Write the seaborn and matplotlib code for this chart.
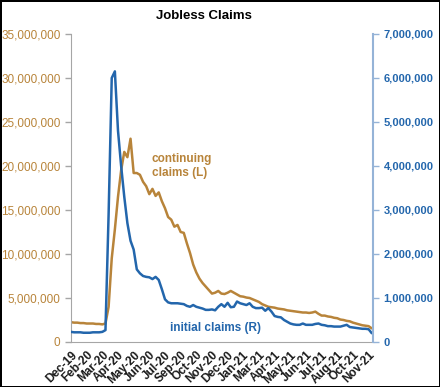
import numpy as np
import pandas as pd
import matplotlib
matplotlib.use('Agg')
import matplotlib.pyplot as plt
from matplotlib.ticker import FuncFormatter
import seaborn as sns

# weekly data, millions
continuing = [2.25, 2.2, 2.2, 2.15, 2.15, 2.1, 2.1, 2.1, 2.05, 2.05,
              2.0, 2.1, 4.0, 9.5, 12.8, 16.5, 19.5, 21.6, 21.0, 23.1,
              19.2, 19.2, 19.0, 18.2, 17.7, 16.8, 17.4, 16.6, 17.0, 16.0,
              15.2, 14.2, 13.9, 13.1, 13.3, 12.5, 12.4, 11.2, 10.1, 8.8,
              7.9, 7.2, 6.7, 6.3, 5.9, 5.5, 5.6, 5.8, 5.5, 5.45,
              5.6, 5.8, 5.6, 5.4, 5.2, 5.15, 5.05, 5.0, 4.85, 4.7,
              4.55, 4.3, 4.15, 4.0, 3.95, 3.9, 3.8, 3.75, 3.7, 3.6,
              3.55, 3.5, 3.45, 3.4, 3.35, 3.35, 3.3, 3.35, 3.45, 3.2,
              3.0, 3.0, 2.9, 2.85, 2.75, 2.7, 2.55, 2.5, 2.4, 2.35,
              2.2, 2.1, 2.0, 1.9, 1.85, 1.8, 1.55]
initial = [0.23, 0.22, 0.22, 0.22, 0.21, 0.21, 0.21, 0.22, 0.22, 0.22,
           0.23, 0.27, 2.9, 6.0, 6.15, 4.8, 4.0, 3.3, 2.7, 2.3,
           2.1, 1.65, 1.56, 1.5, 1.48, 1.47, 1.43, 1.48, 1.41, 1.2,
           0.97, 0.9, 0.88, 0.88, 0.88, 0.87, 0.86, 0.82, 0.80, 0.84,
           0.80, 0.78, 0.76, 0.73, 0.73, 0.74, 0.72, 0.80, 0.86, 0.80,
           0.89, 0.79, 0.80, 0.92, 0.88, 0.86, 0.84, 0.88, 0.80, 0.77,
           0.77, 0.78, 0.71, 0.77, 0.69, 0.59, 0.57, 0.56, 0.50, 0.46,
           0.42, 0.40, 0.39, 0.39, 0.42, 0.39, 0.39, 0.39, 0.41, 0.42,
           0.39, 0.38, 0.36, 0.36, 0.35, 0.35, 0.35, 0.37, 0.39, 0.34,
           0.33, 0.32, 0.31, 0.30, 0.30, 0.29, 0.20]
tick_labels = ['Dec-19', 'Feb-20', 'Mar-20', 'Apr-20', 'May-20', 'Jun-20', 'Jul-20',
               'Sep-20', 'Oct-20', 'Nov-20', 'Dec-20', 'Jan-21', 'Mar-21', 'Apr-21',
               'May-21', 'Jun-21', 'Jul-21', 'Aug-21', 'Oct-21', 'Nov-21']

df = pd.DataFrame({'week': np.arange(len(continuing)),
                   'continuing': np.array(continuing) * 1e6,
                   'initial': np.array(initial) * 1e6})

gold = '#B8843A'
blue = '#2366AC'

sns.set_style('white')
plt.rcParams['font.family'] = ['Liberation Sans', 'DejaVu Sans']

fig = plt.figure(figsize=(4.4, 3.87), dpi=100)
fig.patch.set_edgecolor('black')
fig.patch.set_linewidth(2)
ax = fig.add_axes([0.1614, 0.1163, 0.6863, 0.7959])
ax2 = ax.twinx()

sns.lineplot(x='week', y='continuing', data=df, ax=ax, color=gold, lw=1.8)
sns.lineplot(x='week', y='initial', data=df, ax=ax2, color=blue, lw=1.8)

ax.set_xlim(0, 96.4)
ax.set_ylim(0, 35e6)
ax2.set_ylim(0, 7e6)
ax.set_yticks(np.arange(0, 35e6 + 1, 5e6))
ax2.set_yticks(np.arange(0, 7e6 + 1, 1e6))
fmt = FuncFormatter(lambda v, p: f'{v:,.0f}')
ax.yaxis.set_major_formatter(fmt)
ax2.yaxis.set_major_formatter(fmt)

ax.set_xticks(np.arange(0, 96, 5))
ax.set_xticklabels(tick_labels, rotation=45, ha='right', rotation_mode='anchor',
                   fontsize=8.5, fontweight='bold', color='#1a1a1a')
ax.set_xlabel('')
ax.set_ylabel('')
ax2.set_ylabel('')

ax.tick_params(axis='y', colors=gold, labelsize=8.5, length=4, width=1, direction='out')
for t in ax.get_yticklabels():
    t.set_color(gold)
ax.tick_params(axis='y', color='#A6A6A6')
ax.tick_params(axis='x', color='#A6A6A6', length=4, width=1, direction='out', pad=1)
ax2.tick_params(axis='y', colors=blue, labelsize=8, length=4, width=1, direction='out')
ax2.tick_params(axis='y', color='#95B3D7')
for t in ax2.get_yticklabels():
    t.set_fontweight('bold')

for s in ['top', 'right']:
    ax.spines[s].set_visible(False)
for s in ['top', 'left', 'bottom']:
    ax2.spines[s].set_visible(False)
ax.spines['left'].set_color('#A6A6A6')
ax.spines['bottom'].set_color('#A6A6A6')
ax2.spines['right'].set_color('#95B3D7')
ax2.spines['right'].set_linewidth(1.5)

ax.text(25.8, 20.0e6, 'continuing\nclaims (L)', color=gold, fontsize=8.5,
        fontweight='bold', va='center', ha='left', linespacing=1.3)
ax.text(31.5, 1.55e6, 'initial claims (R)', color=blue, fontsize=8.5,
        fontweight='bold', va='center', ha='left')

fig.text(0.463, 0.958, 'Jobless Claims', ha='center', va='center',
         fontsize=9.5, fontweight='bold', color='black')

fig.savefig('out.png', dpi=100, edgecolor=fig.get_edgecolor())
